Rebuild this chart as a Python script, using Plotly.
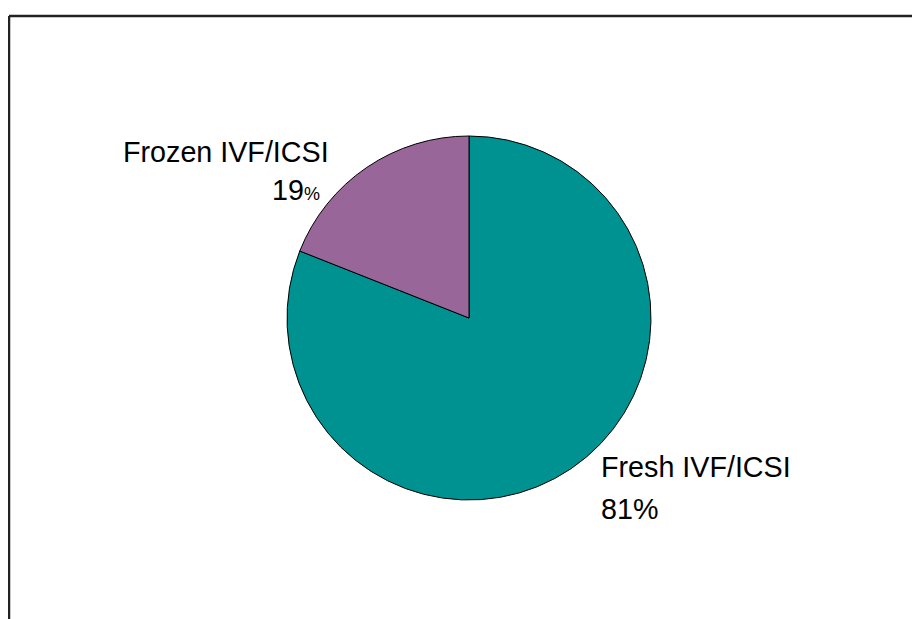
import plotly.graph_objects as go

labels = ["Fresh IVF/ICSI", "Frozen IVF/ICSI"]
values = [81, 19]
colors = ["#009191", "#996699"]

W, H = 920, 619
OFF = 8  # page body margin in the rendered HTML
cx, cy, r = 469, 318, 182

def px(x, y):
    return (x - OFF) / W, 1 - (y - OFF) / H

x0, y0 = px(cx - r, cy + r)
x1, y1 = px(cx + r, cy - r)
fig = go.Figure(go.Pie(
    labels=labels, values=values, sort=False, direction="clockwise", rotation=0,
    marker=dict(colors=colors, line=dict(color="black", width=1)),
    textinfo="none", hoverinfo="label+percent", showlegend=False,
    domain=dict(x=[x0, x1], y=[y0, y1]),
))

font = dict(family="Liberation Sans, Arial, sans-serif", size=28.7, color="black")

anns = []
x, y = px(121, 152)
anns.append(dict(x=x, y=y, text=labels[1], xanchor="left", yanchor="middle"))
x, y = px(322, 190)
anns.append(dict(x=x, y=y, text=f"{values[1]}<span style='font-size:18px'>%</span>", xanchor="right", yanchor="middle"))
x, y = px(599, 467)
anns.append(dict(x=x, y=y, text=labels[0], xanchor="left", yanchor="middle"))
x, y = px(599, 509)
anns.append(dict(x=x, y=y, text=f"{values[0]}%", xanchor="left", yanchor="middle"))
for a in anns:
    a.update(xref="paper", yref="paper", showarrow=False, font=font)

lx, ty = px(9, 16)
shapes = [
    dict(type="line", xref="paper", yref="paper", x0=lx, x1=lx, y0=-0.05, y1=ty,
         line=dict(color="#222222", width=2.5)),
    dict(type="line", xref="paper", yref="paper", x0=lx, x1=1.05, y0=ty, y1=ty,
         line=dict(color="#222222", width=2.5)),
]

fig.update_layout(
    width=W, height=H, margin=dict(l=0, r=0, t=0, b=0),
    paper_bgcolor="white", plot_bgcolor="white",
    annotations=anns, shapes=shapes,
)

fig.write_html("out.html")
